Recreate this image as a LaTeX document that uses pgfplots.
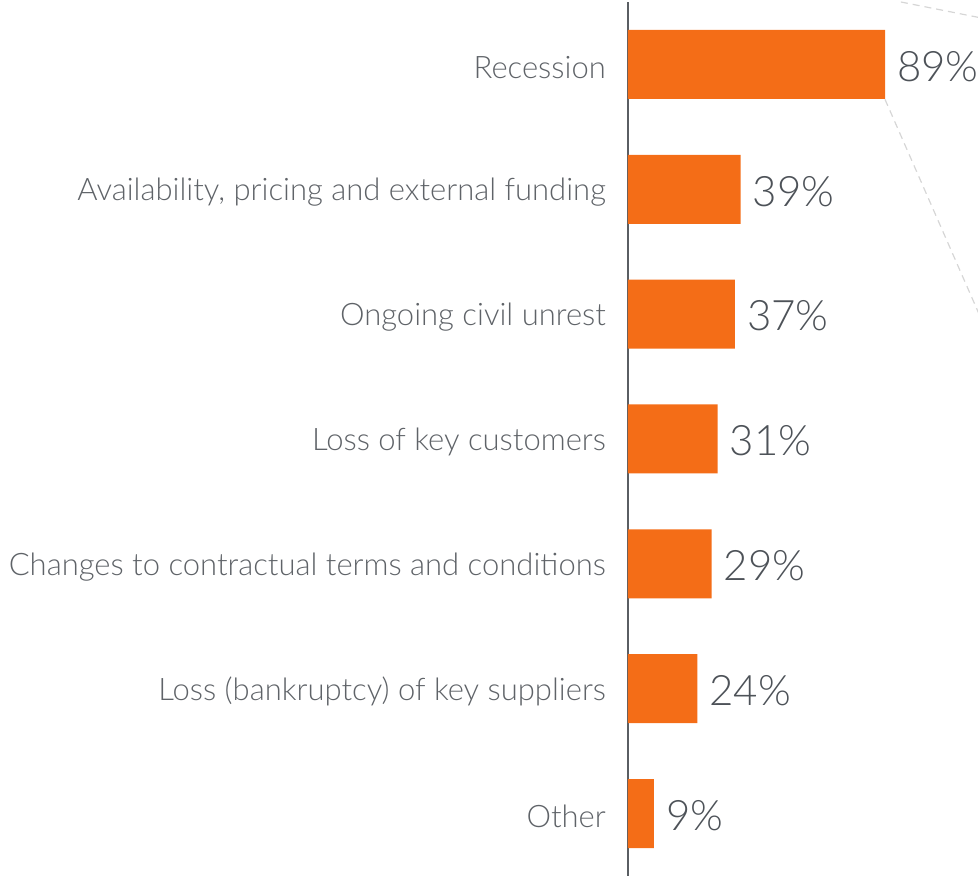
\documentclass[border=0pt]{standalone}
\usepackage{fontspec}
\setmainfont{Lato Light}
\usepackage{pgfplots}
\pgfplotsset{compat=1.18}
\definecolor{barorange}{HTML}{F46D17}
\definecolor{axisgray}{HTML}{5A5E63}
\definecolor{txtgray}{HTML}{5F6368}
\definecolor{pctgray}{HTML}{4D5258}
\definecolor{dashgray}{HTML}{D6D6D6}
\begin{document}
\begin{tikzpicture}
\path[use as bounding box] (-628pt,-2pt) rectangle (350pt,876pt);
\begin{axis}[
  at={(0,0)}, anchor=south west,
  scale only axis, width=350pt, height=874pt,
  xmin=0, xmax=121.2, ymin=-0.5, ymax=6.5,
  axis x line=none, axis y line=left,
  y axis line style={-, axisgray, line width=2pt},
  ytick={0,...,6},
  yticklabels={Other, Loss (bankruptcy) of key suppliers, Changes to contractual terms and conditions, Loss of key customers, Ongoing civil unrest, {Availability, pricing and external funding}, Recession},
  major tick length=0pt,
  yticklabel style={font=\fontsize{31}{36}\selectfont, text=txtgray, inner sep=0pt, anchor=east, xshift=-22pt, yshift=-3pt},
  xbar, bar width=69pt, bar shift=0pt,
  /pgf/number format/assume math mode=true,
  nodes near coords={\pgfmathprintnumber[assume math mode=true]{\pgfplotspointmeta}\%},
  nodes near coords style={font=\fontsize{42}{46}\selectfont, text=pctgray, anchor=west, inner sep=0pt, xshift=12pt, yshift=-2pt},
  clip=false,
]
\addplot[fill=barorange, draw=none] coordinates {(9,0) (24,1) (29,2) (31,3) (37,4) (39,5) (89,6)};
\draw[dashgray, dash pattern=on 7pt off 5pt, line width=1.2pt] (axis cs:94.5,6.5) -- (axis cs:125,6.36);
\draw[dashgray, dash pattern=on 7pt off 5pt, line width=1.2pt] (axis cs:89,5.72) -- (axis cs:125,3.82);
\end{axis}
\end{tikzpicture}
\end{document}
